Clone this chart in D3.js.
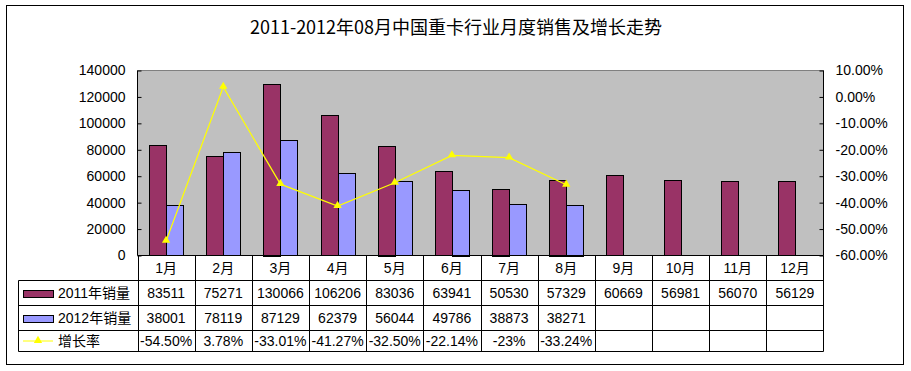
<!DOCTYPE html>
<html>
<head>
<meta charset="utf-8">
<title>重卡销量</title>
<script src="https://cdn.jsdelivr.net/npm/d3@7/dist/d3.min.js"></script>
<style>
  body { margin: 0; background: #fff; }
  text { font-family: "Liberation Sans", Arial, "Noto Sans CJK SC", sans-serif; fill: #000; }
</style>
</head>
<body>
<div id="chart"></div>
<script>
// data
var months = ["1月", "2月", "3月", "4月", "5月", "6月", "7月", "8月", "9月", "10月", "11月", "12月"];
var sales2011 = [83511, 75271, 130066, 106206, 83036, 63941, 50530, 57329, 60669, 56981, 56070, 56129];
var sales2012 = [38001, 78119, 87129, 62379, 56044, 49786, 38873, 38271];
var growth = [-54.50, 3.78, -33.01, -41.27, -32.50, -22.14, -23, -33.24];
var growthLabels = ["-54.50%", "3.78%", "-33.01%", "-41.27%", "-32.50%", "-22.14%", "-23%", "-33.24%"];
var leftTicks = [0, 20000, 40000, 60000, 80000, 100000, 120000, 140000];
var rightTicks = [10, 0, -10, -20, -30, -40, -50, -60];

var width = 911, height = 371;
// "top" is taken by window.top, so plot edges get their own names
var plotL = 137.5, plotR = 823.5, plotT = 70.5, plotB = 255.5;

var svg = d3.select("#chart").append("svg")
    .attr("width", width)
    .attr("height", height);

// outer frame
svg.append("rect")
    .attr("x", 6.5).attr("y", 5.5)
    .attr("width", 897).attr("height", 359)
    .attr("fill", "#fff").attr("stroke", "#000");

svg.append("text")
    .attr("x", 456).attr("y", 34)
    .attr("text-anchor", "middle")
    .style("font-size", "18px")
    .style("font-family", "'Noto Sans CJK SC', sans-serif")
    .text("2011-2012年08月中国重卡行业月度销售及增长走势");

var x = d3.scaleBand().domain(months).range([plotL, plotR]);
var xs = d3.scaleBand().domain(["2011", "2012"])
    .range([0, x.bandwidth()]).paddingInner(0).paddingOuter(0.68);
var y = d3.scaleLinear().domain([0, 140000]).range([plotB, plotT]);
var y2 = d3.scaleLinear().domain([-60, 10]).range([plotB, plotT]);

// plot area
svg.append("rect")
    .attr("x", plotL).attr("y", plotT)
    .attr("width", plotR - plotL).attr("height", plotB - plotT)
    .attr("fill", "#c0c0c0");
svg.append("line")
    .attr("x1", plotL).attr("x2", plotR).attr("y1", plotT).attr("y2", plotT)
    .attr("stroke", "#808080");

// bars
svg.append("g").selectAll("rect")
    .data(sales2011)
    .enter().append("rect")
    .attr("x", function (d, i) { return Math.round(x(months[i]) + xs("2011")) + 0.5; })
    .attr("y", function (d) { return Math.round(y(d)) + 0.5; })
    .attr("width", Math.round(xs.bandwidth()))
    .attr("height", function (d) { return Math.round(plotB - y(d)); })
    .attr("fill", "#993366").attr("stroke", "#000");

svg.append("g").selectAll("rect")
    .data(sales2012)
    .enter().append("rect")
    .attr("x", function (d, i) { return Math.round(x(months[i]) + xs("2012")) + 0.5; })
    .attr("y", function (d) { return Math.round(y(d)) + 0.5; })
    .attr("width", Math.round(xs.bandwidth()))
    .attr("height", function (d) { return Math.round(plotB - y(d)); })
    .attr("fill", "#9999ff").attr("stroke", "#000");

// axes
var yAxis = d3.axisLeft(y).tickValues(leftTicks).tickSize(-4).tickPadding(12)
    .tickFormat(d3.format("d"));
var gy = svg.append("g").attr("transform", "translate(" + plotL + ",0)").call(yAxis);
gy.select(".domain").remove();
gy.append("line").attr("x1", 0).attr("x2", 0).attr("y1", plotT).attr("y2", plotB).attr("stroke", "#000");
gy.selectAll("text").style("font-size", "14px").attr("fill", "#000")
    .style("font-family", "'Liberation Sans', Arial, sans-serif");

var yAxis2 = d3.axisRight(y2).tickValues(rightTicks).tickSize(-4).tickPadding(12)
    .tickFormat(function (d) { return d.toFixed(2) + "%"; });
var gy2 = svg.append("g").attr("transform", "translate(" + plotR + ",0)").call(yAxis2);
gy2.select(".domain").remove();
gy2.append("line").attr("x1", 0).attr("x2", 0).attr("y1", plotT).attr("y2", plotB).attr("stroke", "#000");
gy2.selectAll("text").style("font-size", "14px").attr("fill", "#000")
    .style("font-family", "'Liberation Sans', Arial, sans-serif");

// growth line
var cx = function (i) { return x(months[i]) + x.bandwidth() / 2; };
var line = d3.line()
    .x(function (d, i) { return cx(i); })
    .y(function (d) { return y2(d); });
svg.append("path")
    .datum(growth)
    .attr("d", line)
    .attr("fill", "none").attr("stroke", "#ffff00").attr("stroke-width", 1.2);

var tri = d3.symbol().type(d3.symbolTriangle).size(30);
svg.append("g").selectAll("path")
    .data(growth)
    .enter().append("path")
    .attr("d", tri)
    .attr("transform", function (d, i) { return "translate(" + cx(i) + "," + (y2(d) - 0.5) + ")"; })
    .attr("fill", "#ffff00");

// data table
var rowY = [255.5, 280.5, 305.5, 330.5, 351.5];
var tableLeft = 18.5;
var grid = svg.append("g").attr("stroke", "#000");
grid.append("line").attr("x1", plotL).attr("x2", plotR).attr("y1", rowY[0]).attr("y2", rowY[0]);
rowY.slice(1).forEach(function (ry) {
    grid.append("line").attr("x1", tableLeft).attr("x2", plotR).attr("y1", ry).attr("y2", ry);
});
grid.append("line").attr("x1", tableLeft).attr("x2", tableLeft).attr("y1", rowY[1]).attr("y2", rowY[4]);
months.forEach(function (m) {
    var bx = Math.round(x(m)) + 0.5;
    grid.append("line").attr("x1", bx).attr("x2", bx).attr("y1", rowY[0]).attr("y2", rowY[4]);
});
grid.append("line").attr("x1", plotR).attr("x2", plotR).attr("y1", rowY[0]).attr("y2", rowY[4]);

var cellText = function (vals, row) {
    svg.append("g").selectAll("text")
        .data(vals)
        .enter().append("text")
        .attr("x", function (d, i) { return cx(i); })
        .attr("y", (rowY[row] + rowY[row + 1]) / 2 + 5)
        .attr("text-anchor", "middle")
        .style("font-size", "14px")
        .text(function (d) { return d; });
};
cellText(months, 0);
cellText(sales2011, 1);
cellText(sales2012, 2);
cellText(growthLabels, 3);

// legend keys in the table
var legendRows = [
    { name: "2011年销量", fill: "#993366", row: 1 },
    { name: "2012年销量", fill: "#9999ff", row: 2 }
];
legendRows.forEach(function (l) {
    var my = (rowY[l.row] + rowY[l.row + 1]) / 2;
    svg.append("rect")
        .attr("x", 23.5).attr("y", Math.round(my - 3) + 0.5)
        .attr("width", 30).attr("height", 7)
        .attr("fill", l.fill).attr("stroke", "#000");
    svg.append("text")
        .attr("x", 58).attr("y", my + 5)
        .style("font-size", "14px")
        .text(l.name);
});
var ly = (rowY[3] + rowY[4]) / 2;
svg.append("line").attr("x1", 23).attr("x2", 53).attr("y1", ly).attr("y2", ly)
    .attr("stroke", "#ffff00");
svg.append("path").attr("d", tri)
    .attr("transform", "translate(38," + (ly - 0.5) + ")")
    .attr("fill", "#ffff00");
svg.append("text")
    .attr("x", 58).attr("y", ly + 5)
    .style("font-size", "14px")
    .text("增长率");
</script>
</body>
</html>
